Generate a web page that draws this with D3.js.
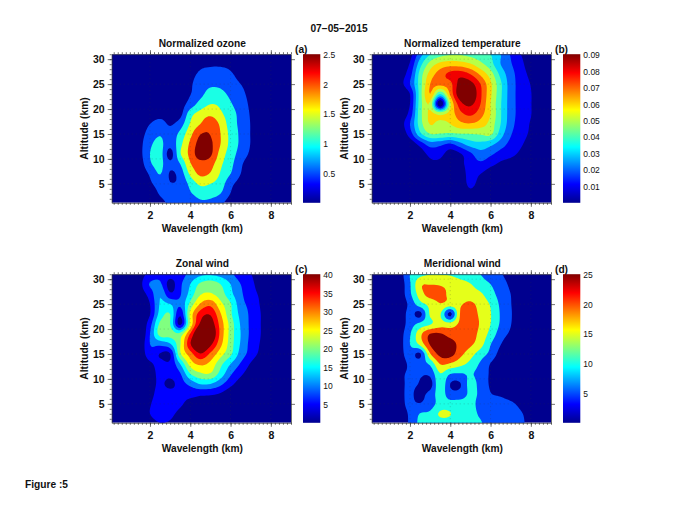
<!DOCTYPE html>
<html>
<head>
<meta charset="utf-8">
<script src="https://cdnjs.cloudflare.com/ajax/libs/d3/7.8.5/d3.min.js"></script>
<style>
    html, body { margin: 0; padding: 0; background: #fff; }
    svg text { font-family: "Liberation Sans", Arial, sans-serif; fill: #111; }
    .axis path, .axis line { stroke: #333; stroke-width: 0.7; }
</style>
</head>
<body>
<svg id="chart" width="680" height="525"></svg>
<script>
"use strict";

// grid the values were read on: columns are wavelength (km), rows altitude (km)
const wavelengthGrid = [1, 1.5, 2, 2.5, 3, 3.5, 4, 4.5, 5, 5.5, 6, 6.5, 7, 7.5, 8, 8.5];
const altitudeGrid = [33, 31, 29, 27, 25, 23, 21, 19, 17, 15, 13, 11, 9, 7, 5, 3, 1, -1];

const ozoneGrid = [
    [0, 0, 0, 0, 0, 0, 0, .1, .1, .1, .1, 0, 0, 0, 0, 0],
    [0, 0, 0, 0, 0, 0, .1, .25, .3, .3, .25, .1, 0, 0, 0, 0],
    [0, 0, 0, .05, .05, .1, .2, .4, .45, .45, .4, .2, .05, 0, 0, 0],
    [0, 0, 0, .05, .1, .15, .35, .58, .65, .65, .55, .35, .15, 0, 0, 0],
    [0, 0, .05, .1, .15, .2, .43, .75, .9, .88, .68, .5, .3, .05, 0, 0],
    [0, 0, .1, .15, .2, .3, .48, .85, 1.2, 1.15, .88, .63, .35, .05, 0, 0],
    [0, .05, .15, .25, .25, .3, .7, 1.2, 1.49, 1.4, 1.05, .75, .4, .05, 0, 0],
    [0, .05, .25, .35, .3, .35, 1.3, 1.7, 1.9, 1.6, 1.2, .85, .45, .1, 0, 0],
    [0, .2, .5, .68, .45, .75, 1.55, 2, 2.35, 1.9, 1.25, .88, .48, .1, 0, 0],
    [0, .3, .7, .95, .7, 1.15, 1.85, 2.48, 2.48, 2, 1.35, .9, .48, .1, 0, 0],
    [0, .35, .9, 1.15, .65, 1.35, 2.1, 2.7, 2.6, 2, 1.35, .9, .48, .1, 0, 0],
    [0, .35, 1, 1.2, .3, 1.45, 2.15, 2.8, 2.6, 1.8, 1.25, .8, .4, .05, 0, 0],
    [0, .25, .92, 1.15, .6, 1, 1.95, 2.3, 2.2, 1.6, 1.15, .6, .2, 0, 0, 0],
    [0, .1, .58, 1.02, .45, .7, 1.6, 2.1, 1.95, 1.45, 1, .5, .15, 0, 0, 0],
    [0, 0, .4, .7, .52, .6, 1.15, 1.6, 1.5, 1.25, .65, .3, .05, 0, 0, 0],
    [0, 0, .15, .55, .65, .7, .95, 1.15, 1.15, 1, .48, .1, 0, 0, 0, 0],
    [0, 0, 0, .3, .6, .65, .75, .9, .85, .6, .2, 0, 0, 0, 0, 0],
    [0, 0, 0, .1, .5, .5, .5, .6, .55, .4, .1, 0, 0, 0, 0, 0]
];

const temperatureGrid = [
    [0, 0, 0, .01, .022, .035, .043, .045, .045, .042, .032, .022, .014, .006, 0, 0],
    [0, 0, .006, .025, .039, .046, .049, .049, .047, .044, .04, .03, .019, .01, .003, 0],
    [0, .003, .011, .036, .054, .063, .066, .065, .061, .053, .044, .03, .021, .013, .004, 0],
    [0, .005, .016, .044, .064, .075, .083, .086, .08, .068, .055, .037, .024, .015, .007, 0],
    [0, .006, .02, .045, .07, .073, .077, .095, .094, .08, .062, .042, .025, .016, .0095, 0],
    [0, .001, .01, .045, .07, .04, .072, .098, .1, .082, .062, .042, .025, .016, .0105, 0.002],
    [0, .001, .01, .045, .058, 0, .058, .086, .092, .08, .06, .041, .025, .016, .0105, .002],
    [0, .003, .014, .046, .062, .058, .064, .077, .082, .074, .06, .041, .025, .016, .0105, .001],
    [0, .005, .02, .045, .0605, .056, .06, .067, .069, .065, .056, .04, .024, .015, .009, 0],
    [0, .002, .015, .037, .0495, .0495, .048, .0495, .0498, .051, .052, .035, .021, .014, .008, 0],
    [0, 0, .003, .014, .025, .023, .019, .027, .035, .037, .033, .025, .017, .0115, .005, 0],
    [0, 0, 0, .004, .013, .013, .005, .009, .018, .026, .022, .016, .013, .0075, .001, 0],
    [0, 0, 0, 0, .007, .007, .002, .007, .015, .018, .013, .008, .005, .001, 0, 0],
    [0, 0, 0, 0, 0, .001, 0, .004, .014, .01, .004, .001, 0, 0, 0, 0],
    [0, 0, 0, 0, 0, 0, 0, .002, .013, .005, .001, 0, 0, 0, 0, 0],
    [0, 0, 0, 0, 0, 0, 0, .001, .006, .001, 0, 0, 0, 0, 0, 0],
    [0, 0, 0, 0, 0, 0, 0, 0, .001, 0, 0, 0, 0, 0, 0, 0],
    [0, 0, 0, 0, 0, 0, 0, 0, 0, 0, 0, 0, 0, 0, 0, 0]
];

const zonalGrid = [
    [0, 3, 6.5, 8, 7, 7.5, 12, 14, 14.5, 13.5, 11, 7.5, 4, .5, 0, 0],
    [0, 3, 6.5, 8.5, 7, 8, 11.5, 14, 14.5, 13.5, 11, 7.5, 5.25, 1.5, 0, 0],
    [0, 3.5, 10.5, 11, 3, 9, 15, 21, 23, 20, 15, 10, 6.5, 2.5, 0, 0],
    [0, 2.5, 7, 14.5, 6, 9.5, 17, 24.5, 25.5, 22.5, 16.5, 11, 7, 4, 0, 0],
    [0, 1.5, 5, 15.5, 15, 11, 21.5, 30.5, 33.5, 26.5, 20.5, 12, 8.5, 4.5, 1, 0],
    [0, .5, 4.75, 17, 20, 6, 26.5, 37.5, 39.5, 30.5, 21, 13.5, 9, 5, 1.5, 0],
    [0, .5, 8, 21, 20, 3.5, 26, 41, 43, 33, 23, 14.5, 9, 5, 1.5, 0],
    [0, 0, 10, 22, 22, 22, 35.5, 48, 46.5, 33.5, 23, 15, 9, 5, 1.5, 0],
    [0, 1, 10, 11.5, 14.5, 24.5, 39.5, 48, 41.5, 31.5, 22.5, 14.5, 8.5, 4.5, .5, 0],
    [0, 1, 8, 4.75, 4.75, 24, 32.5, 39.5, 34, 27, 21, 13, 8, 3.5, 0, 0],
    [0, 0, 4, 6.5, 6, 15, 27, 31, 28.5, 21.5, 15, 9.5, 4.5, .5, 0, 0],
    [0, 0, 2.5, 6.5, 6.5, 9.5, 19.75, 24, 24.5, 18, 10.75, 6, 2.25, 0, 0, 0],
    [0, 0, 2.5, 6, 3.5, 7.5, 11.5, 15.25, 15, 11.25, 6.5, 2.5, 0, 0, 0, 0],
    [0, 0, 3, 7.5, 7, 6, 6.5, 6, 5.75, 4.5, 1.5, 0, 0, 0, 0, 0],
    [0, .5, 4.5, 8, 7.5, 5.75, 3.5, 3, 2.5, 1, 0, 0, 0, 0, 0, 0],
    [0, 1, 5, 7.5, 6.25, 3.5, 1, 0, 0, 0, 0, 0, 0, 0, 0, 0],
    [0, 0, 2.5, 4.75, 4, 1.5, 0, 0, 0, 0, 0, 0, 0, 0, 0, 0],
    [0, 0, 0, 2.5, 0, 0, 0, 0, 0, 0, 0, 0, 0, 0, 0, 0]
];

const meridionalGrid = [
    [0, 2, 6.5, 11, 12.5, 12.5, 12.5, 12, 11, 10, 8.5, 6, 2.5, 0, 0, 0],
    [0, 2.5, 10, 13.5, 14.75, 14.75, 14.5, 13, 11.5, 10, 7.5, 5.5, 3, 0, 0, 0],
    [0, 2, 9.5, 19, 19.75, 19.5, 18.5, 17, 15.25, 12.5, 10, 7, 4, .5, 0, 0],
    [0, 2, 9, 17.5, 22, 21.5, 19, 18, 17, 15.75, 12, 8, 5, 1.5, 0, 0],
    [0, 1.5, 6.5, 13, 16.5, 19.75, 18, 19.5, 21, 18, 14.5, 9, 5.25, 1.5, 0, 0],
    [0, 1.5, 6.75, 3.5, 15.75, 15.5, 3.5, 20.5, 22, 19, 15.25, 9.5, 5.5, 1.5, 0, 0],
    [0, 2, 7.5, 11.5, 14.5, 17.5, 17, 21, 22, 19.5, 15, 9.25, 5.25, 1, 0, 0],
    [0, 3, 9.5, 18.5, 25.25, 25.5, 23, 22, 22, 18.5, 13.25, 7.5, 4, .5, 0, 0],
    [0, 3, 10, 16.5, 25.5, 28, 27, 23.5, 21, 17, 10.25, 5.25, 1.5, 0, 0, 0],
    [0, 3, 7.5, 4.25, 19.5, 26.5, 27, 21.5, 17, 12.5, 8.5, 3, .5, 0, 0, 0],
    [0, 2.5, 6, 8, 11, 20.25, 19.25, 16.5, 13.5, 9.25, 4.75, 1, 0, 0, 0, 0],
    [0, 4, 5.5, 5.5, 6.25, 14.75, 10, 9.5, 10.5, 8, 4.25, .5, 0, 0, 0, 0],
    [0, 4, 5.5, 4.75, 3, 14, 4.9, 4.7, 12, 8, 4.25, .25, 0, 0, 0, 0],
    [0, 4, 5.5, 4, 6.5, 12.5, 7, 7, 11, 9, 5.25, 4, 2, 0, 0, 0],
    [0, 4, 5.5, 5.25, 7.5, 12, 12, 12, 11.5, 8.5, 7.5, 7, 6, 3.5, .5, 0],
    [0, 4, 5.5, 10.25, 11, 15.75, 15.25, 11.5, 11.5, 9.25, 7.5, 7.25, 6.5, 5.5, 2.5, 0],
    [0, 4, 5.5, 11.5, 12.25, 12.5, 12.5, 12, 11.5, 10.5, 7.5, 7, 6.25, 5.75, 3.5, .5],
    [0, 4, 5.5, 11.5, 12, 12, 12, 12, 11.5, 10.5, 7.5, 7, 6.5, 6, 4, .5]
];

const ozoneLevels = [.5, 1, 1.5, 2, 2.5];
const temperatureLevels = [.01, .02, .03, .04, .05, .06, .07, .08, .09];
const zonalLevels = [5, 10, 15, 20, 25, 30, 35, 40];
const meridionalLevels = [5, 10, 15, 20, 25];

const wavelengthTicks = [2, 4, 6, 8];
const altitudeTicks = [5, 10, 15, 20, 25, 30];

// jet colormap
const jetStops = [0, 1 / 8, 3 / 8, 5 / 8, 7 / 8, 1];
const jetColors = ['#00008f', '#0000ff', '#00ffff', '#ffff00', '#ff0000', '#800000'];
const jet = d3.scaleLinear().domain(jetStops).range(jetColors);

const svg = d3.select('#chart');
const defs = svg.append('defs');

const gradient = defs.append('linearGradient')
    .attr('id', 'jetGradient')
    .attr('x1', 0).attr('y1', 1).attr('x2', 0).attr('y2', 0);
jetStops.forEach(function (s, i) {
    gradient.append('stop').attr('offset', s).attr('stop-color', jetColors[i]);
});

function range(start, stop, step) {
    return d3.range(Math.round((stop - start) / step) + 1).map(function (i) {
        return +(start + i * step).toFixed(3);
    });
}

// bicubic resampling so the filled contours come out round like contourf
function smoothGrid(grid, factor) {
    function cubic(a, b, c, d, t) {
        return b + 0.5 * t * (c - a + t * (2 * a - 5 * b + 4 * c - d + t * (3 * (b - c) + d - a)));
    }
    function resample(row) {
        const out = [];
        for (let i = 0; i < row.length - 1; i++) {
            const a = row[Math.max(i - 1, 0)];
            const d = row[Math.min(i + 2, row.length - 1)];
            for (let k = 0; k < factor; k++) {
                out.push(cubic(a, row[i], row[i + 1], d, k / factor));
            }
        }
        out.push(row[row.length - 1]);
        return out;
    }
    const wide = grid.map(resample);
    const cols = wide[0].map(function (_, i) {
        return resample(wide.map(function (r) { return r[i]; }));
    });
    return cols[0].map(function (_, j) {
        return cols.map(function (c) { return c[j]; });
    });
}

function drawPanel(id, left, top, title, tag, grid, levels, cbarMax) {
    const width = 179.3;
    const height = 148.6;
    const x = d3.scaleLinear().domain([0.1, 9.0]).range([0, width]);
    const y = d3.scaleLinear().domain([1.2, 31]).range([height, 0]);
    const g = svg.append('g').attr('transform', 'translate(' + left + ',' + top + ')');

    defs.append('clipPath').attr('id', 'clip' + id)
        .append('rect').attr('width', width).attr('height', height);

    const plot = g.append('g').attr('clip-path', 'url(#clip' + id + ')');
    plot.append('rect')
        .attr('width', width).attr('height', height)
        .attr('fill', jet(0));

    // contour output is in cell units, with grid points on the cell centres
    const fine = smoothGrid(grid, 5);
    const nx = fine[0].length;
    const ny = fine.length;
    const colToWave = d3.scaleLinear().domain([0.5, nx - 0.5])
        .range([wavelengthGrid[0], wavelengthGrid[wavelengthGrid.length - 1]]);
    const rowToAlt = d3.scaleLinear().domain([0.5, ny - 0.5])
        .range([altitudeGrid[0], altitudeGrid[altitudeGrid.length - 1]]);
    const ringLine = d3.line()
        .x(function (d) { return x(colToWave(d[0])); })
        .y(function (d) { return y(rowToAlt(d[1])); });

    const bands = d3.contours().size([nx, ny]).smooth(true)
        .thresholds(levels)(fine.flat());

    plot.selectAll('path.band')
        .data(bands)
        .enter()
        .append('path')
        .attr('class', 'band')
        .attr('fill-rule', 'evenodd')
        .attr('fill', function (d) { return jet(d.value / cbarMax); })
        .attr('d', function (d) {
            return d.coordinates.map(function (poly) {
                return poly.map(function (ring) {
                    return ringLine(ring) + 'Z';
                }).join('');
            }).join('');
        });

    // dotted grid, barely visible through the fill
    const dots = g.append('g')
        .attr('fill', 'none')
        .attr('stroke', '#333')
        .attr('stroke-opacity', 0.4)
        .attr('stroke-width', 0.6)
        .attr('stroke-dasharray', '1 3');
    wavelengthTicks.forEach(function (t) {
        dots.append('line').attr('x1', x(t)).attr('x2', x(t)).attr('y1', 0).attr('y2', height);
    });
    altitudeTicks.forEach(function (t) {
        dots.append('line').attr('y1', y(t)).attr('y2', y(t)).attr('x1', 0).attr('x2', width);
    });

    // minor ticks first, majors with labels over them
    const minorX = range(0.2, 9, 0.2);
    const minorY = range(2, 31, 1);
    g.append('g').attr('class', 'axis').attr('transform', 'translate(0,' + height + ')')
        .call(d3.axisBottom(x).tickValues(minorX).tickSize(2).tickFormat(''))
        .select('.domain').remove();
    g.append('g').attr('class', 'axis')
        .call(d3.axisTop(x).tickValues(minorX).tickSize(2).tickFormat(''))
        .select('.domain').remove();
    g.append('g').attr('class', 'axis')
        .call(d3.axisLeft(y).tickValues(minorY).tickSize(2).tickFormat(''))
        .select('.domain').remove();

    const labelFont = 'font-size:10.2px;font-weight:bold';
    const tickFont = 'font-size:10.5px;font-weight:bold';
    const bottom = g.append('g').attr('class', 'axis').attr('transform', 'translate(0,' + height + ')')
        .call(d3.axisBottom(x).tickValues(wavelengthTicks).tickSize(4).tickSizeOuter(0).tickPadding(5));
    bottom.selectAll('text').attr('style', tickFont);
    const leftAxis = g.append('g').attr('class', 'axis')
        .call(d3.axisLeft(y).tickValues(altitudeTicks).tickSize(4).tickSizeOuter(0).tickPadding(3));
    leftAxis.selectAll('text').attr('style', tickFont);
    g.append('g').attr('class', 'axis')
        .call(d3.axisTop(x).tickValues(wavelengthTicks).tickSize(4).tickSizeOuter(0).tickFormat(''));
    g.append('g').attr('class', 'axis').attr('transform', 'translate(' + width + ',0)')
        .call(d3.axisRight(y).tickValues(altitudeTicks).tickSize(4).tickSizeOuter(0).tickFormat(''));

    g.append('text').text('Wavelength (km)')
        .attr('x', width / 2 + 1).attr('y', height + 29.5)
        .attr('text-anchor', 'middle').attr('style', labelFont);
    g.append('text').text('Altitude (km)')
        .attr('transform', 'translate(-24,' + (height / 2) + ') rotate(-90)')
        .attr('text-anchor', 'middle').attr('style', labelFont);
    g.append('text').text(title)
        .attr('x', width / 2 + 1).attr('y', -7)
        .attr('text-anchor', 'middle').attr('style', labelFont);
    g.append('text').text(tag)
        .attr('x', width + 4).attr('y', -1)
        .attr('style', labelFont);

    // colour bar
    const cbarLeft = width + 12;
    const cbarWidth = 17.3;
    const cbarScale = d3.scaleLinear().domain([0, cbarMax]).range([height, 1]);
    g.append('rect')
        .attr('x', cbarLeft).attr('y', 0)
        .attr('width', cbarWidth).attr('height', height)
        .attr('fill', 'url(#jetGradient)');
    const cbarAxis = g.append('g').attr('class', 'axis')
        .attr('transform', 'translate(' + (cbarLeft + cbarWidth) + ',0)')
        .call(d3.axisRight(cbarScale).tickValues(levels).tickSize(0).tickPadding(3).tickFormat(d3.format('~g')));
    cbarAxis.select('.domain').remove();
    cbarAxis.selectAll('text').attr('style', 'font-size:8.5px');
}

drawPanel('a', 111.7, 54.2, 'Normalized ozone', '(a)', ozoneGrid, ozoneLevels, 2.5);
drawPanel('b', 371.7, 54.2, 'Normalized temperature', '(b)', temperatureGrid, temperatureLevels, 0.09);
drawPanel('c', 111.7, 274.2, 'Zonal wind', '(c)', zonalGrid, zonalLevels, 40);
drawPanel('d', 371.7, 274.2, 'Meridional wind', '(d)', meridionalGrid, meridionalLevels, 25);

svg.append('text').text('07\u221205\u22122015')
    .attr('x', 339).attr('y', 32)
    .attr('text-anchor', 'middle')
    .attr('style', 'font-size:10.2px;font-weight:bold');
svg.append('text').text('Figure :5')
    .attr('x', 25).attr('y', 488)
    .attr('style', 'font-size:10.2px;font-weight:bold');
</script>
</body>
</html>
